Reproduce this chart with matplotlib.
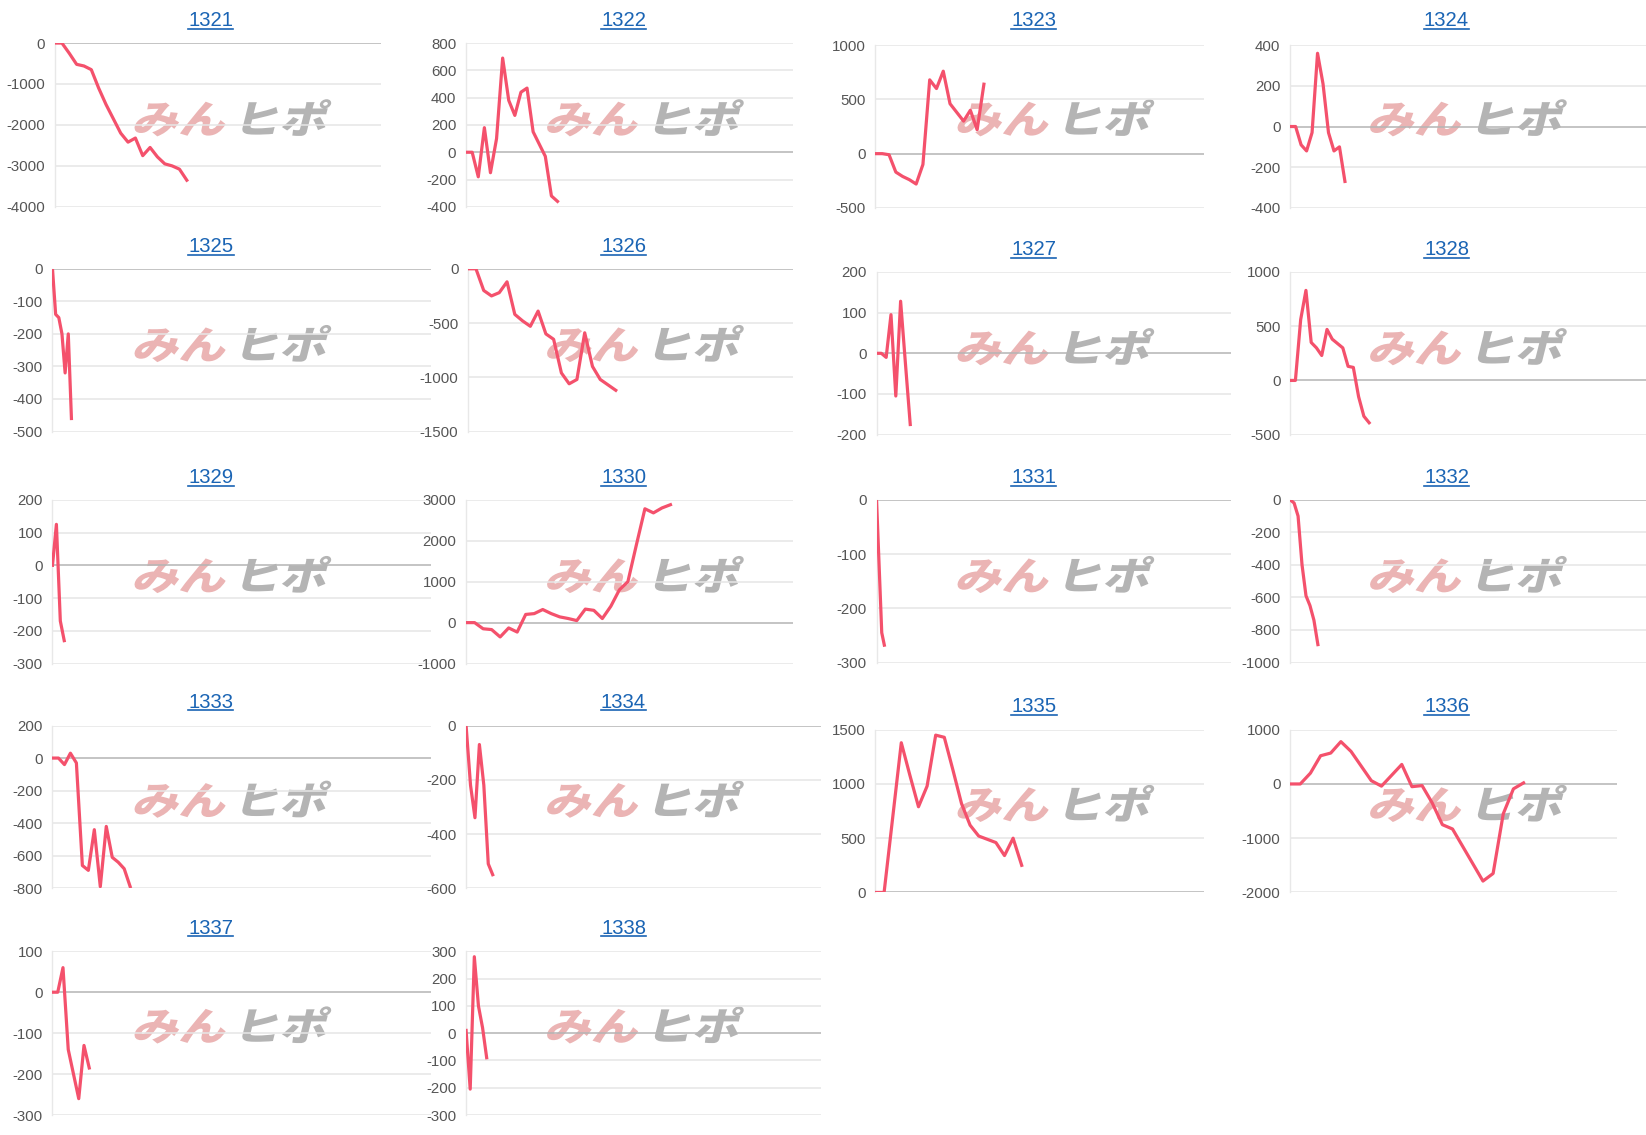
import matplotlib
matplotlib.use("Agg")
import matplotlib.pyplot as plt
import numpy as np
from matplotlib.textpath import TextPath
from matplotlib.patches import PathPatch
from matplotlib.font_manager import FontProperties
from matplotlib.transforms import Affine2D, IdentityTransform
from matplotlib.lines import Line2D

plt.rcParams['font.family'] = ['Liberation Sans', 'DejaVu Sans']

# ---- data ----
codes = ['1321', '1322', '1323', '1324', '1325', '1326', '1327', '1328', '1329',
         '1330', '1331', '1332', '1333', '1334', '1335', '1336', '1337', '1338']

v1321 = [0, 0, -250, -520, -560, -650, -1100, -1500, -1850, -2200, -2420, -2320,
         -2750, -2550, -2780, -2950, -3000, -3080, -3350]
v1322 = [0, 0, -180, 180, -150, 100, 690, 380, 270, 440, 470, 150, 60, -30, -320, -360]
v1323 = [0, 0, -10, -170, -210, -240, -280, -100, 680, 600, 760, 460, 380, 300, 400, 220, 640]
v1324 = [0, 0, -90, -120, -30, 360, 210, -30, -120, -100, -270]
v1325 = [0, -140, -150, -200, -320, -200, -460]
v1326 = [0, 0, -200, -250, -220, -120, -420, -480, -530, -390, -600, -650, -960, -1060,
         -1020, -590, -900, -1020, -1070, -1120]
v1327 = [0, 0, -10, 95, -105, 128, -25, -175]
v1328 = [0, 0, 560, 830, 350, 300, 230, 470, 380, 340, 300, 130, 120, -150, -330, -390]
v1329 = [0, 125, -170, -230]
v1330 = [0, 0, -150, -170, -350, -130, -230, 200, 220, 320, 220, 140, 100, 50, 330, 300,
         100, 400, 800, 1000, 1900, 2780, 2680, 2800, 2880]
v1331 = [0, -122, -245, -268]
v1332 = [0, -20, -100, -400, -590, -650, -740, -890]
v1333 = [0, 0, -40, 30, -30, -660, -690, -440, -790, -420, -610, -640, -680, -790]
v1334 = [0, -220, -340, -70, -220, -510, -550]
v1335 = [0, 0, 690, 1380, 1080, 790, 980, 1450, 1430, 1130, 820, 620, 520, 490, 460,
         340, 500, 250]
v1336 = [0, 0, 200, 520, 570, 780, 600, 330, 60, -40, 160, 360, -50, -30, -350, -750,
         -830, -1150, -1470, -1790, -1650, -550, -90, 20]
v1337 = [0, 0, 60, -140, -200, -260, -130, -185]
v1338 = [10, -205, 280, 100, 20, -90]

series = [v1321, v1322, v1323, v1324, v1325, v1326, v1327, v1328, v1329,
          v1330, v1331, v1332, v1333, v1334, v1335, v1336, v1337, v1338]

# y range per panel: (min, max, step)
yranges = [(-4000, 0, 1000), (-400, 800, 200), (-500, 1000, 500), (-400, 400, 200),
           (-500, 0, 100), (-1500, 0, 500), (-200, 200, 100), (-500, 1000, 500),
           (-300, 200, 100), (-1000, 3000, 1000), (-300, 0, 100), (-1000, 0, 200),
           (-800, 200, 200), (-600, 0, 200), (0, 1500, 500), (-2000, 1000, 1000),
           (-300, 100, 100), (-300, 300, 100)]

# ---- layout (in 1568x1081 reference pixels) ----
REF_W, REF_H = 1568, 1081
# left, right, top, bottom of plot area, fraction of width covered by the line
boxes = [(52, 363, 41, 197, 0.405), (444, 755, 41, 197, 0.28),
         (834, 1147, 43, 198, 0.33), (1229, 1568, 43, 198, 0.154),
         (50, 411, 256, 411, 0.05), (446, 755, 256, 411, 0.455),
         (835, 1173, 259, 414, 0.095), (1229, 1568, 259, 414, 0.222),
         (50, 411, 476, 632, 0.031), (444, 755, 476, 632, 0.626),
         (835, 1173, 476, 631, 0.022), (1229, 1568, 476, 631, 0.078),
         (50, 411, 691, 846, 0.205), (444, 782, 691, 846, 0.075),
         (834, 1147, 695, 850, 0.445), (1229, 1540, 695, 850, 0.715),
         (50, 411, 906, 1062, 0.097), (444, 782, 906, 1062, 0.058)]
col_x = [201, 594, 985, 1378]
title_y = [20, 20, 20, 20, 235, 235, 238, 238, 455, 455, 455, 455,
           669, 669, 673, 673, 884, 884]

LINE = '#f4516c'
TITLE = '#1a64b4'
GRID = '#e6e6e6'
ZERO = '#b4b4b4'
TICK = '#555555'

fig = plt.figure(figsize=(16.46, 11.35), dpi=100)
fig.patch.set_facecolor('white')
sx = 1646 / REF_W
sy = 1135 / REF_H

titles = []
for i, (code, vals) in enumerate(zip(codes, series)):
    l, r, t, b, span = boxes[i]
    lo, hi, step = yranges[i]
    ax = fig.add_axes([l / REF_W, 1 - b / REF_H, (r - l) / REF_W, (b - t) / REF_H])
    ax.set_facecolor('none')
    x = np.arange(len(vals))
    ax.set_xlim(0, (len(vals) - 1) / span)
    ax.set_ylim(lo, hi)
    ticks = np.arange(lo, hi + step, step)
    for tk in ticks:
        ax.axhline(tk, color=ZERO if tk == 0 else GRID, lw=1.1, zorder=1)
    ax.plot(x, vals, color=LINE, lw=2.3, zorder=3, solid_joinstyle='round')
    ax.set_yticks(ticks)
    ax.set_yticklabels([str(int(v)) for v in ticks])
    ax.set_xticks([])
    ax.tick_params(axis='y', length=0, pad=7, labelsize=10.8, labelcolor=TICK)
    for s in ['top', 'right', 'bottom']:
        ax.spines[s].set_visible(False)
    ax.spines['left'].set_color('#e8e8e8')
    ax.spines['left'].set_linewidth(1.0)

    cx = col_x[i % 4]
    ty = title_y[i]
    titles.append(fig.text(cx / REF_W, 1 - ty / REF_H, code, ha='center', va='center',
                           fontsize=14.6, color=TITLE))

    # watermark behind the plot
    wx = (cx - 76) * sx
    wy = 1135 - (ty + 107) * sy
    fp = FontProperties(family='Noto Sans CJK JP', weight='black')
    for txt, col, dx in [('みん', '#ebb4b4', 0), ('ヒポ', '#b4b4b4', 101)]:
        path = TextPath((0, 0), txt, size=39, prop=fp)
        tr = Affine2D().scale(1.2, 1.0).skew_deg(14, 0).translate(wx + dx, wy)
        fig.add_artist(PathPatch(path, transform=tr + IdentityTransform(),
                                 facecolor=col, edgecolor='none', zorder=-1))

# underline the titles like links
fig.canvas.draw()
renderer = fig.canvas.get_renderer()
inv = fig.transFigure.inverted()
for t in titles:
    bb = t.get_window_extent(renderer)
    (x0, y0), (x1, _) = inv.transform([(bb.x0, bb.y0 + 1.5), (bb.x1, bb.y0 + 1.5)])
    fig.add_artist(Line2D([x0, x1], [y0, y0], transform=fig.transFigure,
                          color=TITLE, lw=1.2))

fig.savefig('out.png', dpi=100)
